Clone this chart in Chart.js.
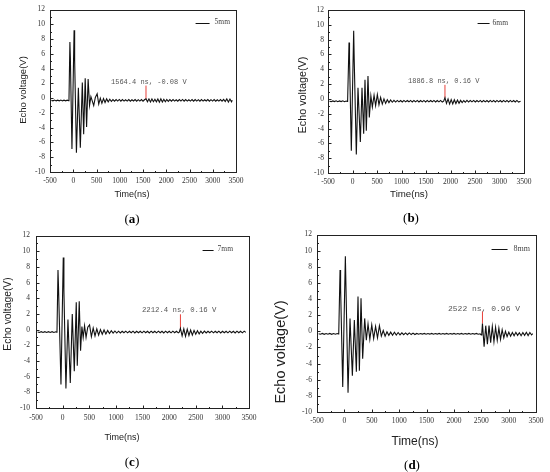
<!DOCTYPE html>
<html lang="en">
<head>
<meta charset="UTF-8">
<title>Echo voltage</title>
<script src="https://cdn.jsdelivr.net/npm/chart.js@4"></script>
<style>
  body { margin: 0; background: #fff; width: 550px; height: 472px; position: relative; overflow: hidden; }
  .panel { position: absolute; }
  .tag { position: absolute; font: 13px "Liberation Serif", serif; color: #000; transform: translate(-50%, -50%); }
</style>
</head>
<body>
<div class="panel" style="left:0;top:0;width:275px;height:200px"><canvas id="ca"></canvas></div>
<div class="panel" style="left:275px;top:0;width:275px;height:200px"><canvas id="cb"></canvas></div>
<div class="panel" style="left:0;top:225px;width:275px;height:247px"><canvas id="cc"></canvas></div>
<div class="panel" style="left:272px;top:225px;width:278px;height:247px"><canvas id="cd"></canvas></div>
<div class="tag" style="left:132px;top:219px">(<b>a</b>)</div>
<div class="tag" style="left:411px;top:218px">(<b>b</b>)</div>
<div class="tag" style="left:132px;top:462px">(<b>c</b>)</div>
<div class="tag" style="left:412px;top:465px">(<b>d</b>)</div>

<script>
// ---- data: [time ns, voltage V] ----
const seriesLabels = ["5mm", "6mm", "7mm", "8mm"];
const timeTicks = [-500, 0, 500, 1000, 1500, 2000, 2500, 3000, 3500];
const voltTicks = [-10, -8, -6, -4, -2, 0, 2, 4, 6, 8, 10, 12];
const xAxisName = "Time(ns)";
const yAxisName = "Echo voltage(V)";

const noteTimes = [1564.4, 1886.8, 2212.4, 2522];
const noteVolts = [-0.08, 0.16, 0.16, 0.96];
const noteTexts = ["1564.4 ns, -0.08 V", "1886.8 ns, 0.16 V", "2212.4 ns, 0.16 V", "2522 ns, 0.96 V"];

const wave5mm = [
  [-470,-0.30],[-436,-0.36],[-402,-0.26],[-368,-0.37],[-334,-0.27],[-300,-0.36],[-266,-0.26],[-232,-0.37],[-198,-0.28],[-164,-0.36],[-130,-0.27],[-100,-0.34],
  [-92,-0.3],[-72,7.6],[-62,5.5],[-28,-6.9],[18,9.2],[30,5.2],[68,-7.4],[110,1.4],[152,-6.7],[195,2.1],[224,-4.9],[257,2.7],[287,-3.9],[320,2.6],[350,-1.0],[380,0.2],[410,-0.4],[440,-1.0],[475,0.1],[514,0.6],[548,-0.8],[582,0.0],[616,-0.7],[650,-0.05],[684,-0.6],[718,-0.1],[752,-0.5],[786,-0.15],[820,-0.45],[854,-0.2],[888,-0.42],
  [922,-0.2],[956,-0.4],[990,-0.18],[1024,-0.42],[1058,-0.2],[1092,-0.4],[1126,-0.22],[1160,-0.4],[1194,-0.19],[1228,-0.41],[1262,-0.22],[1296,-0.38],[1330,-0.2],[1364,-0.42],[1398,-0.21],[1432,-0.4],[1466,-0.2],[1500,-0.42],[1532,-0.22],
  [1564,-0.08],[1596,-0.5],[1628,-0.1],[1660,-0.52],[1692,-0.12],[1724,-0.48],[1756,-0.15],[1788,-0.5],[1820,-0.12],[1852,-0.55],[1884,-0.1],[1916,-0.52],[1948,-0.15],[1980,-0.48],[2012,-0.18],[2044,-0.45],
  [2078,-0.2],[2112,-0.42],[2146,-0.2],[2180,-0.4],[2214,-0.22],[2248,-0.41],[2282,-0.2],[2316,-0.4],[2350,-0.18],[2384,-0.42],[2418,-0.2],[2452,-0.4],[2486,-0.22],[2520,-0.4],[2554,-0.2],[2588,-0.42],[2622,-0.19],[2656,-0.4],[2690,-0.21],[2724,-0.41],[2758,-0.2],[2792,-0.4],[2826,-0.22],[2860,-0.39],[2894,-0.2],[2928,-0.42],[2962,-0.21],[2996,-0.4],[3030,-0.2],[3064,-0.41],[3098,-0.22],[3132,-0.4],[3166,-0.2],[3200,-0.42],[3234,-0.18],[3268,-0.46],[3302,-0.1],[3336,-0.52],[3370,-0.12],[3404,-0.5],[3420,-0.3]
];

const wave6mm = [
  [-470,-0.32],[-436,-0.37],[-402,-0.27],[-368,-0.36],[-334,-0.26],[-300,-0.37],[-266,-0.27],[-232,-0.36],[-198,-0.26],[-164,-0.37],[-130,-0.28],[-106,-0.34],
  [-100,-0.3],[-71,7.6],[-61,5.5],[-24,-7.0],[24,9.2],[36,5.0],[78,-7.5],[112,1.5],[160,-5.8],[194,1.5],[228,-4.7],[255,2.6],[282,-4.3],[316,3.1],[343,-2.5],[375,0.4],[405,-1.1],[440,0.5],[472,-0.9],[507,0.6],[540,-0.8],[574,0.2],[608,-0.7],[642,0.0],[676,-0.6],[710,-0.1],[744,-0.5],[778,-0.15],[812,-0.45],[846,-0.2],[880,-0.42],
  [914,-0.2],[948,-0.4],[982,-0.21],[1016,-0.41],[1050,-0.2],[1084,-0.4],[1118,-0.22],[1152,-0.39],[1186,-0.2],[1220,-0.42],[1254,-0.21],[1288,-0.4],[1322,-0.2],[1356,-0.41],[1390,-0.22],[1424,-0.4],[1458,-0.2],[1492,-0.42],[1526,-0.21],[1560,-0.4],[1594,-0.22],[1628,-0.39],[1662,-0.2],[1696,-0.41],[1730,-0.22],[1764,-0.4],[1798,-0.2],[1832,-0.42],[1860,-0.3],
  [1887,0.16],[1918,-0.6],[1950,0.0],[1982,-0.7],[2014,-0.1],[2046,-0.68],[2078,-0.12],[2110,-0.62],[2142,-0.15],[2174,-0.6],[2206,-0.2],[2238,-0.5],[2270,-0.22],[2302,-0.45],
  [2336,-0.2],[2370,-0.42],[2404,-0.21],[2438,-0.4],[2472,-0.2],[2506,-0.41],[2540,-0.22],[2574,-0.4],[2608,-0.2],[2642,-0.42],[2676,-0.21],[2710,-0.4],[2744,-0.22],[2778,-0.41],[2812,-0.2],[2846,-0.4],[2880,-0.21],[2914,-0.42],[2948,-0.2],[2982,-0.4],[3016,-0.22],[3050,-0.41],[3084,-0.2],[3118,-0.4],[3152,-0.21],[3186,-0.42],[3220,-0.2],[3254,-0.4],[3288,-0.22],[3322,-0.41],[3356,-0.2],[3390,-0.42],[3430,-0.32]
];

const wave7mm = [
  [-470,-0.3],[-436,-0.36],[-402,-0.26],[-368,-0.37],[-334,-0.27],[-300,-0.36],[-266,-0.26],[-232,-0.37],[-198,-0.27],[-164,-0.36],[-130,-0.28],[-112,-0.33],
  [-106,-0.3],[-87,7.6],[-77,5.4],[-31,-7.0],[12,9.2],[24,5.0],[62,-7.5],[100,1.3],[144,-6.8],[181,2.0],[219,-5.3],[256,3.5],[275,-4.6],[312,3.6],[337,-2.7],[362,0.4],[386,-1.0],[412,0.5],[440,-1.0],[472,0.3],[506,0.6],[540,-0.9],[574,0.2],[608,-0.8],[642,0.1],[676,-0.7],[710,0.0],[744,-0.6],[778,-0.05],[812,-0.55],[846,-0.1],[880,-0.5],[914,-0.15],[948,-0.45],[982,-0.18],[1016,-0.44],[1050,-0.2],[1084,-0.42],
  [1118,-0.21],[1152,-0.4],[1186,-0.2],[1220,-0.41],[1254,-0.22],[1288,-0.4],[1322,-0.2],[1356,-0.42],[1390,-0.21],[1424,-0.4],[1458,-0.22],[1492,-0.41],[1526,-0.2],[1560,-0.4],[1594,-0.21],[1628,-0.42],[1662,-0.2],[1696,-0.4],[1730,-0.22],[1764,-0.41],[1798,-0.2],[1832,-0.4],[1866,-0.21],[1900,-0.42],[1934,-0.2],[1968,-0.4],[2002,-0.22],[2036,-0.41],[2070,-0.2],[2104,-0.4],[2138,-0.21],[2172,-0.42],[2190,-0.32],
  [2212,0.16],[2244,-0.8],[2276,0.1],[2308,-0.85],[2340,0.05],[2372,-0.75],[2404,-0.05],[2436,-0.7],[2468,-0.1],[2500,-0.6],[2532,-0.15],[2564,-0.55],[2596,-0.2],[2628,-0.48],
  [2662,-0.2],[2696,-0.42],[2730,-0.21],[2764,-0.4],[2798,-0.2],[2832,-0.41],[2866,-0.22],[2900,-0.4],[2934,-0.2],[2968,-0.42],[3002,-0.21],[3036,-0.4],[3070,-0.22],[3104,-0.41],[3138,-0.2],[3172,-0.4],[3206,-0.21],[3240,-0.42],[3274,-0.2],[3308,-0.4],[3342,-0.22],[3376,-0.41],[3410,-0.2],[3440,-0.35]
];

const wave8mm = [
  [-470,-0.3],[-436,-0.36],[-402,-0.26],[-368,-0.37],[-334,-0.27],[-300,-0.36],[-266,-0.26],[-232,-0.37],[-198,-0.27],[-164,-0.36],[-130,-0.28],[-108,-0.33],
  [-103,-0.3],[-79,7.6],[-69,5.4],[-30,-6.9],[18,9.3],[30,5.2],[67,-7.6],[103,1.6],[146,-5.5],[182,1.4],[219,-5.0],[249,4.3],[274,-4.9],[304,4.1],[334,-3.4],[371,1.6],[401,-1.1],[432,0.9],[465,-1.0],[500,0.8],[535,-0.9],[570,0.6],[605,-0.8],[640,0.7],[675,-0.6],[710,0.1],[744,-0.6],[778,-0.05],[812,-0.5],[846,-0.1],[880,-0.48],[914,-0.12],[948,-0.46],[982,-0.15],[1016,-0.44],[1050,-0.18],[1084,-0.42],[1118,-0.2],[1152,-0.42],[1186,-0.2],[1220,-0.4],[1254,-0.22],[1288,-0.4],
  [1322,-0.26],[1356,-0.36],[1390,-0.27],[1424,-0.35],[1458,-0.26],[1492,-0.36],[1526,-0.27],[1560,-0.35],[1594,-0.26],[1628,-0.36],[1662,-0.27],[1696,-0.35],[1730,-0.26],[1764,-0.36],[1798,-0.27],[1832,-0.35],[1866,-0.26],[1900,-0.36],[1934,-0.27],[1968,-0.35],[2002,-0.26],[2036,-0.36],[2070,-0.27],[2104,-0.35],[2138,-0.26],[2172,-0.36],[2206,-0.27],[2240,-0.35],[2274,-0.26],[2308,-0.36],[2342,-0.27],[2376,-0.35],[2410,-0.26],[2444,-0.36],[2478,-0.3],
  [2500,-0.45],[2510,-0.2],[2522,0.96],[2552,-1.9],[2582,0.7],[2612,-1.6],[2642,0.7],[2672,-1.4],[2702,0.6],[2732,-1.3],[2762,0.5],[2792,-1.1],[2822,0.4],[2852,-1.0],[2882,0.2],[2912,-0.8],[2942,0.0],[2972,-0.65],
  [3004,-0.1],[3036,-0.6],[3068,-0.15],[3100,-0.55],[3132,-0.12],[3164,-0.5],[3196,-0.18],[3228,-0.55],[3260,-0.15],[3292,-0.5],[3324,-0.12],[3356,-0.52],[3388,-0.15],[3420,-0.45],[3440,-0.3]
];

const waves = [wave5mm, wave6mm, wave7mm, wave8mm];

// ---- layout per panel (canvas-relative pixels) ----
const panels = [
  { id: "ca", yW: 50, xH: 28, pt: 9, pr: 39, xPad: 4.5, yPad: 5,
    xTitle: { size: 9, x: 132, y: 195 }, yTitle: { size: 9.5, x: 23, y: 90 },
    legend: { dx: 6, dy: 13, len: 14, gap: 5, size: 7.5 },
    note: { x: 812, y: 2.15, top: 1.7, size: 7 } },
  { id: "cb", yW: 53, xH: 27, pt: 10, pr: 26, xPad: 5, yPad: 4,
    xTitle: { size: 9.7, x: 134, y: 194 }, yTitle: { size: 10.8, x: 28, y: 95 },
    legend: { dx: 16, dy: 13, len: 12, gap: 3, size: 7.5 },
    note: { x: 1133, y: 2.42, top: 1.9, size: 7 } },
  { id: "cc", yW: 36, xH: 64, pt: 10, pr: 26, xPad: 5.5, yPad: 6,
    xTitle: { size: 9, x: 122, y: 213 }, yTitle: { size: 10.3, x: 8, y: 89 },
    legend: { dx: 16, dy: 14, len: 11, gap: 4, size: 7.5 },
    note: { x: 1490, y: 2.46, top: 1.95, size: 7.3 } },
  { id: "cd", yW: 45, xH: 60, pt: 7, pr: 14, xPad: 4.5, yPad: 5,
    xTitle: { size: 12, x: 143, y: 217 }, yTitle: { size: 14.5, x: 9, y: 127 },
    legend: { dx: 6, dy: 14, len: 16, gap: 6, size: 8 },
    note: { x: 1893, y: 2.83, top: 2.46, size: 8 } }
];

// frame, inward ticks, legend, note text and axis names
const decor = {
  id: "decor",
  afterDraw(chart, args, opts) {
    const { ctx, chartArea: a } = chart;
    const xs = chart.scales.x, ys = chart.scales.y;
    const L = Math.round(a.left) + 0.5, R = Math.round(a.right) + 0.5;
    const T = Math.round(a.top) + 0.5, B = Math.round(a.bottom) + 0.5;
    ctx.save();
    ctx.strokeStyle = "#222";
    ctx.lineWidth = 1;
    ctx.strokeRect(L, T, R - L, B - T);

    ctx.beginPath();
    xs.ticks.forEach(t => {
      const px = Math.round(xs.getPixelForValue(t.value)) + 0.5;
      const len = timeTicks.includes(t.value) ? 3 : 1.5;
      ctx.moveTo(px, B); ctx.lineTo(px, B - len);
    });
    ys.ticks.forEach(t => {
      const py = Math.round(ys.getPixelForValue(t.value)) + 0.5;
      const len = voltTicks.includes(t.value) ? 3 : 1.5;
      ctx.moveTo(L, py); ctx.lineTo(L + len, py);
    });
    ctx.stroke();

    // legend
    const lg = opts.legend;
    ctx.font = lg.size + "px 'Liberation Serif'";
    ctx.fillStyle = "#444";
    ctx.textAlign = "right";
    ctx.textBaseline = "middle";
    const label = chart.data.datasets[0].label;
    const tx = a.right - lg.dx, ty = a.top + lg.dy;
    ctx.fillText(label, tx, ty);
    const start = tx - ctx.measureText(label).width - lg.gap;
    ctx.beginPath();
    ctx.strokeStyle = "#111";
    ctx.moveTo(start - lg.len, Math.round(ty) + 0.5);
    ctx.lineTo(start, Math.round(ty) + 0.5);
    ctx.stroke();

    // note text
    const nt = opts.note;
    ctx.font = nt.size + "px 'Liberation Mono'";
    ctx.fillStyle = "#555";
    ctx.textAlign = "left";
    ctx.fillText(opts.noteText, xs.getPixelForValue(nt.x), ys.getPixelForValue(nt.y));

    // axis names
    ctx.fillStyle = "#222";
    ctx.textAlign = "center";
    ctx.font = opts.xTitle.size + "px 'Liberation Sans'";
    ctx.fillText(xAxisName, opts.xTitle.x, opts.xTitle.y);
    ctx.translate(opts.yTitle.x, opts.yTitle.y);
    ctx.rotate(-Math.PI / 2);
    ctx.font = opts.yTitle.size + "px 'Liberation Sans'";
    ctx.fillText(yAxisName, 0, 0);
    ctx.restore();
  }
};

panels.forEach((p, i) => {
  const tickFont = { family: "Liberation Serif", size: 7.5 };
  new Chart(document.getElementById(p.id), {
    type: "line",
    data: {
      datasets: [
        {
          label: seriesLabels[i],
          data: waves[i].map(([x, y]) => ({ x, y })),
          borderColor: "#111",
          backgroundColor: "#111",
          borderWidth: 1.1,
          pointRadius: 0,
          tension: 0
        },
        {
          label: "marker",
          data: [{ x: noteTimes[i], y: noteVolts[i] }, { x: noteTimes[i], y: p.note.top }],
          borderColor: "#e8403a",
          borderWidth: 1,
          pointRadius: 0
        }
      ]
    },
    options: {
      responsive: true,
      maintainAspectRatio: false,
      animation: false,
      events: [],
      layout: { padding: { top: p.pt, right: p.pr, left: 0, bottom: 0 } },
      scales: {
        x: {
          type: "linear",
          min: -500, max: 3500,
          grid: { display: false, drawTicks: false },
          border: { display: false },
          ticks: {
            stepSize: 250, autoSkip: false, maxRotation: 0, minRotation: 0,
            padding: p.xPad, font: tickFont, color: "#333",
            callback: v => (timeTicks.includes(v) ? String(v) : "")
          },
          afterFit: s => { s.height = p.xH; }
        },
        y: {
          min: -10, max: 12,
          grid: { display: false, drawTicks: false },
          border: { display: false },
          ticks: {
            stepSize: 1, autoSkip: false,
            padding: p.yPad, font: tickFont, color: "#333",
            callback: v => (voltTicks.includes(v) ? String(v) : "")
          },
          afterFit: s => { s.width = p.yW; }
        }
      },
      plugins: {
        legend: { display: false },
        tooltip: { enabled: false },
        decor: {
          legend: p.legend, note: p.note, noteText: noteTexts[i],
          xTitle: p.xTitle, yTitle: p.yTitle
        }
      }
    },
    plugins: [decor]
  });
});
</script>
</body>
</html>
